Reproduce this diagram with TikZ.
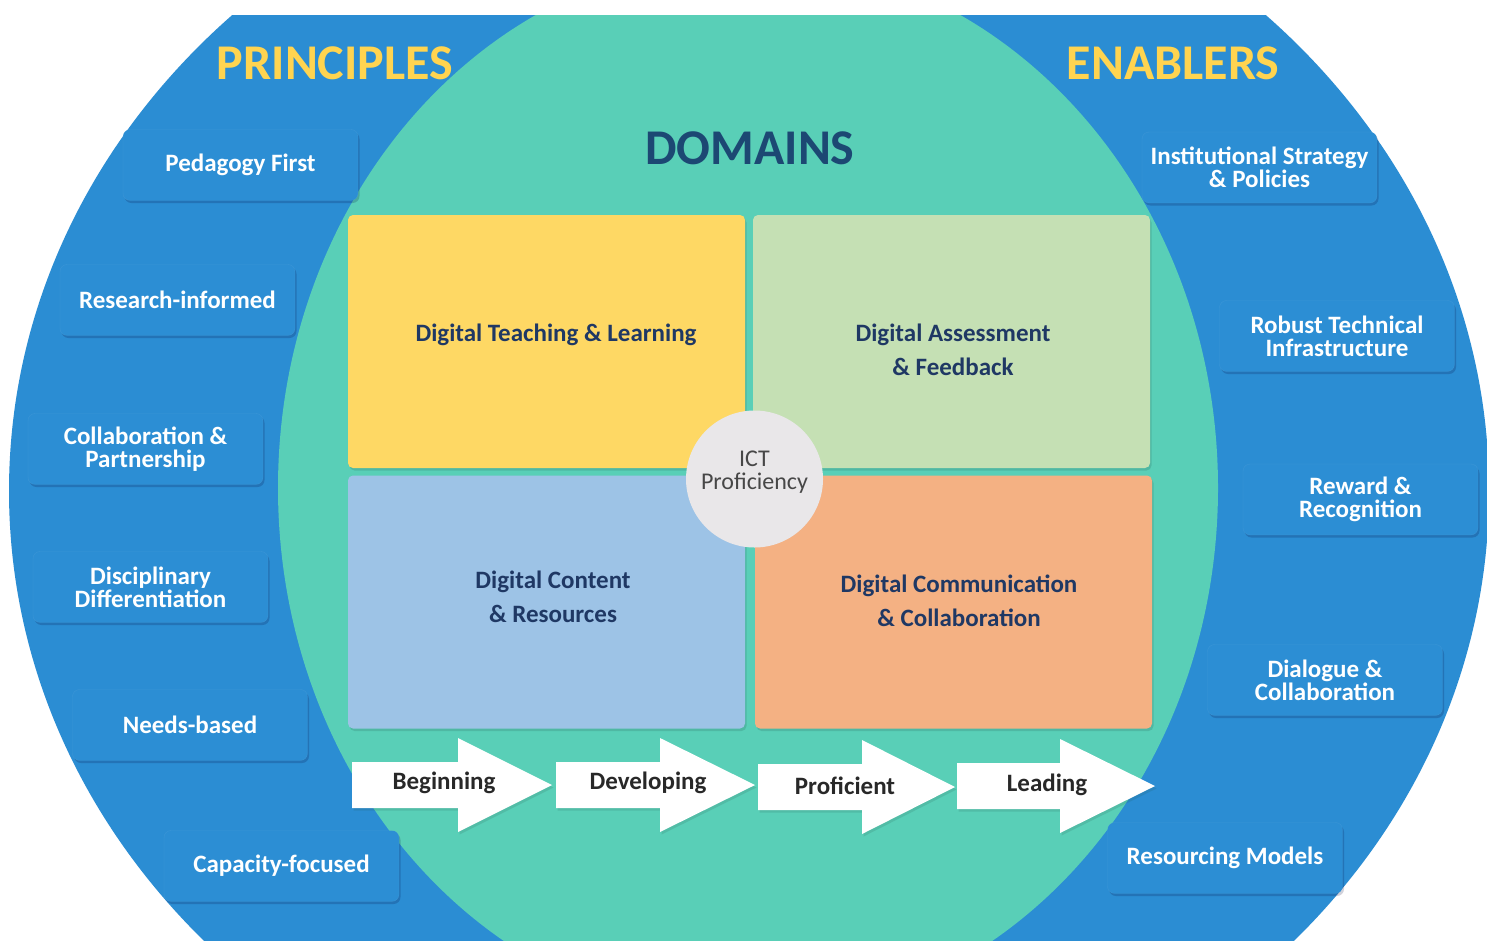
\documentclass[tikz,border=0pt]{standalone}
\usepackage{fontspec}
\setmainfont{Carlito}
\usetikzlibrary{shadows}
\definecolor{bgblue}{RGB}{43,141,211}
\definecolor{boxblue}{RGB}{44,142,212}
\definecolor{teal}{RGB}{89,207,183}
\definecolor{qyellow}{RGB}{254,216,100}
\definecolor{qgreen}{RGB}{197,224,180}
\definecolor{qblue}{RGB}{157,195,230}
\definecolor{qorange}{RGB}{244,177,131}
\definecolor{ictgray}{RGB}{233,231,233}
\definecolor{navy}{RGB}{31,56,100}
\definecolor{domnavy}{RGB}{28,72,115}
\definecolor{titleyellow}{RGB}{255,212,80}
\definecolor{arrowtext}{RGB}{40,40,40}
\tikzset{
  pbox/.style={rounded corners=7pt, fill=boxblue, draw=white, draw opacity=0.08,
    drop shadow={shadow xshift=1.5pt, shadow yshift=-2.5pt, opacity=0.18, fill=black!80!blue},
    minimum width=235pt, minimum height=71pt, inner sep=0pt,
    text=white, align=center, font=\bfseries\fontsize{25}{23}\selectfont},
  quad/.style={rounded corners=5pt, draw=none, inner sep=0pt,
    drop shadow={shadow xshift=1.5pt, shadow yshift=-2.5pt, opacity=0.18, fill=black!60!teal},
    minimum width=397pt, minimum height=253pt},
  qtext/.style={text=navy, align=center, font=\bfseries\fontsize{25}{34}\selectfont},
  atext/.style={text=arrowtext, font=\bfseries\fontsize{25}{25}\selectfont},
  arrowshape/.style={fill=white,
    drop shadow={shadow xshift=1.5pt, shadow yshift=-2.5pt, opacity=0.15, fill=black!60!teal}},
  title/.style={text=titleyellow, font=\bfseries\fontsize{50}{50}\selectfont},
}
\begin{document}
\begin{tikzpicture}[x=1pt,y=-1pt]
\useasboundingbox (0,0) rectangle (1487,940);
\fill[white] (0,0) rectangle (1487,940);
\begin{scope}
  \clip (0,15) rectangle (1487,940);
  \fill[bgblue] (749,491) ellipse [x radius=740, y radius=665];
  \fill[teal] (748,488) ellipse [x radius=470, y radius=530];
\end{scope}

% titles
\node[title] (tp) at (335,63) {PRINCIPLES};
\node[title] (te) at (1173,63) {ENABLERS};
\node[text=domnavy, font=\bfseries\fontsize{50}{50}\selectfont] (td) at (750,148) {DOMAINS};

% principles
\node[pbox] (p1) at (240.5,165) {Pedagogy First};
\node[pbox] (p2) at (177.5,300) {Research-informed};
\node[pbox] (p3) at (145.5,449) {Collaboration \&\\Partnership};
\node[pbox] (p4) at (150.5,587) {Disciplinary\\Differentiation};
\node[pbox] (p5) at (190,725) {Needs-based};
\node[pbox] (p6) at (281.5,866) {Capacity-focused};

% enablers
\node[pbox] (e1) at (1259.5,167.5) {Institutional Strategy\\\& Policies};
\node[pbox] (e2) at (1337,336) {Robust Technical\\Infrastructure};
\node[pbox] (e3) at (1360.5,499.5) {Reward \&\\Recognition};
\node[pbox] (e4) at (1325,680) {Dialogue \&\\Collaboration};
\node[pbox] (e5) at (1225,858) {Resourcing Models};

% quadrants
\node[quad, fill=qyellow] (q1) at (546.5,341.5) {};
\node[quad, fill=qgreen] (q2) at (951.5,341.5) {};
\node[quad, fill=qblue] (q3) at (546.5,602) {};
\node[quad, fill=qorange] (q4) at (953.5,602) {};
\node[qtext] (q1t) at (556,335) {Digital Teaching \& Learning};
\node[qtext] (q2t) at (953,350) {Digital Assessment\\\& Feedback};
\node[qtext] (q3t) at (553,596.5) {Digital Content\\\& Resources};
\node[qtext] (q4t) at (959,600.5) {Digital Communication\\\& Collaboration};

% ICT circle
\node[circle, fill=ictgray, minimum size=137pt, inner sep=0pt] (ict) at (754.5,479) {};
\node[align=center, text=black!72, font=\fontsize{24}{23}\selectfont] (ictt) at (754.5,472) {ICT\\Proficiency};

% progression arrows
\fill[arrowshape] (352,762) -- (458,762) -- (458,738) -- (552,785) -- (458,832) -- (458,808) -- (352,808) -- cycle;
\fill[arrowshape] (556,762) -- (660,762) -- (660,738) -- (755,785) -- (660,832) -- (660,808) -- (556,808) -- cycle;
\fill[arrowshape] (758,764) -- (862,764) -- (862,740) -- (955,787) -- (862,834) -- (862,810) -- (758,810) -- cycle;
\fill[arrowshape] (957,763) -- (1060,763) -- (1060,739) -- (1155,786) -- (1060,833) -- (1060,809) -- (957,809) -- cycle;
\node[atext] (a1) at (444,783) {Beginning};
\node[atext] (a2) at (648,783) {Developing};
\node[atext] (a3) at (845,786) {Proficient};
\node[atext] (a4) at (1047,785) {Leading};
\end{tikzpicture}
\end{document}
